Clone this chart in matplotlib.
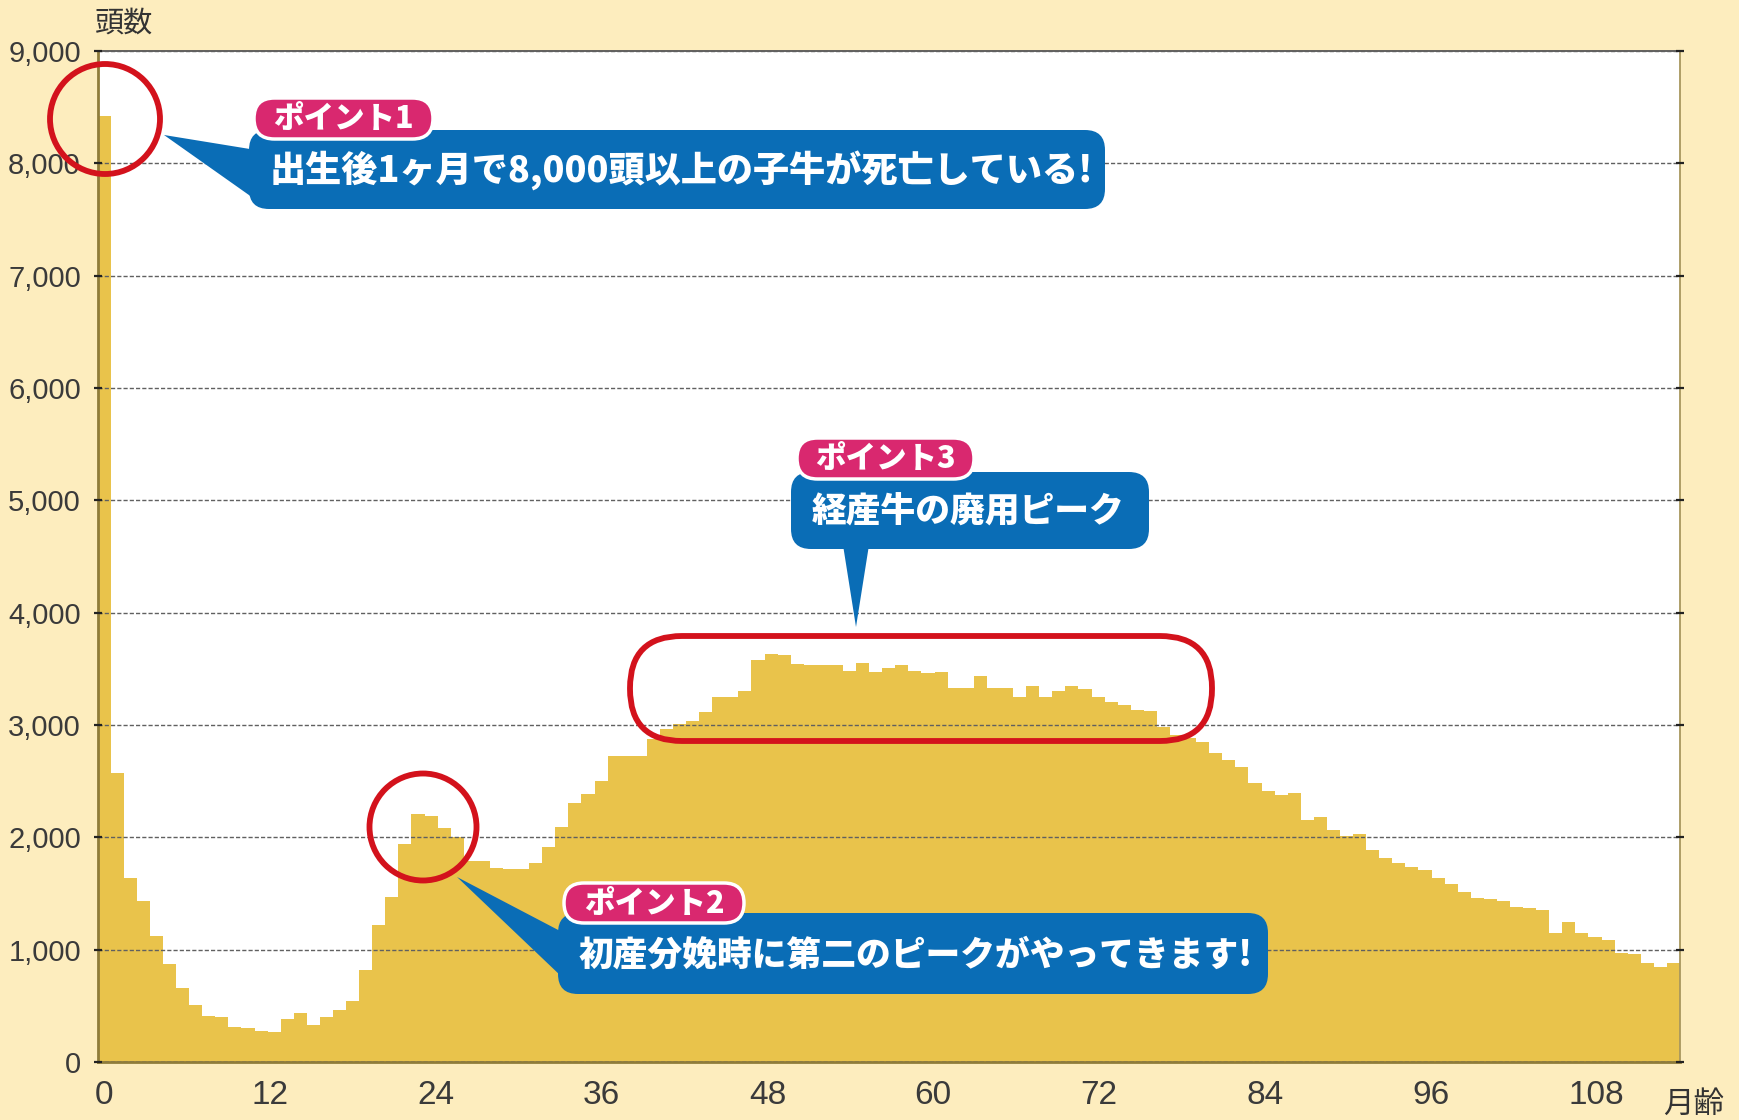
"""Deaths by age in months, with three callouts."""

import matplotlib.pyplot as plt
import numpy as np
from matplotlib.patches import Ellipse, FancyBboxPatch, Polygon

plt.rcParams['font.family'] = ['Noto Sans CJK JP', 'DejaVu Sans']

W, H = 1740, 1120

BG = '#FDEDBE'
GOLD = '#E9C34B'
BLUE = '#0A6DB6'
PINK = '#D9286F'
RED = '#D3121C'

# one bar per month of age, 0..120
months = np.arange(121)
deaths = [
    8420, 2570, 1640, 1435, 1120, 870, 662, 508, 410, 400,
    315, 300, 279, 270, 380, 433, 330, 404, 463, 543,
    819, 1220, 1472, 1938, 2205, 2190, 2081, 2000, 1790, 1790,
    1725, 1715, 1715, 1775, 1915, 2090, 2310, 2390, 2500, 2720,
    2720, 2720, 2875, 2960, 3010, 3040, 3115, 3250, 3250, 3300,
    3580, 3630, 3625, 3544, 3535, 3535, 3535, 3485, 3555, 3470,
    3510, 3535, 3485, 3467, 3476, 3330, 3330, 3437, 3327, 3327,
    3250, 3348, 3250, 3306, 3348, 3318, 3250, 3208, 3175, 3134,
    3128, 2986, 2912, 2882, 2852, 2749, 2689, 2630, 2481, 2416,
    2378, 2392, 2155, 2179, 2066, 2012, 2030, 1888, 1814, 1769,
    1733, 1710, 1636, 1585, 1517, 1457, 1449, 1437, 1383, 1368,
    1353, 1146, 1250, 1146, 1116, 1086, 968, 962, 879, 849,
    879,
]
x_labels = ['0', '12', '24', '36', '48', '60', '72', '84', '96', '108']
y_ticks = np.arange(0, 9001, 1000)

tags = ['ポイント1', 'ポイント2', 'ポイント3']
messages = [
    '出生後1ヶ月で8,000頭以上の子牛が死亡している!',
    '初産分娩時に第二のピークがやってきます!',
    '経産牛の廃用ピーク',
]

fig = plt.figure(figsize=(W / 100, H / 100), dpi=100, facecolor=BG)
ax = fig.add_axes([97.6 / W, 1 - 1062 / H, (1680 - 97.6) / W, (1062 - 51) / H])
ax.bar(months, deaths, width=1.0, color=GOLD, linewidth=0)
ax.set_xlim(-0.5, 120.5)
ax.set_ylim(0, 9000)

# the printed labels sit on a slightly wider pitch than the bars
ax.set_xticks(np.arange(len(x_labels)) * 12.68, x_labels)
ax.set_yticks(y_ticks, [f'{v:,}' for v in y_ticks])
for lab in ax.get_yticklabels():
    lab.set(family='Liberation Sans', size=21, color='#3a3a3a')
for lab in ax.get_xticklabels():
    lab.set(family='Liberation Sans', size=24, color='#3a3a3a')
ax.tick_params(axis='x', length=0, pad=13)
ax.tick_params(axis='y', direction='inout', length=6, width=1.6,
               color='#222222', pad=9, right=True)

ax.set_axisbelow(False)
ax.yaxis.grid(True, color='#606060', linewidth=1.0, linestyle=(0, (3, 1.5)))
ax.xaxis.grid(False)
for side in ('left', 'bottom'):
    ax.spines[side].set(color='#8f7c3a', linewidth=2)
ax.spines['top'].set(color='#555555', linewidth=1.3)
ax.spines['right'].set(color='#a8975e', linewidth=1.3)

# overlay in pixel units for the callouts
ov = fig.add_axes([0, 0, 1, 1])
ov.set_xlim(0, W)
ov.set_ylim(H, 0)
ov.axis('off')
ov.patch.set_visible(False)

ov.text(124, 24, '頭数', ha='center', va='center', size=21, color='#333333')
ov.text(1694, 1104, '月齢', ha='center', va='center', size=22, color='#333333')

for cx, cy, d in [(105, 119, 110), (423, 827, 107)]:
    ov.add_patch(Ellipse((cx, cy), d, d, fill=False, ec=RED, lw=4.2, zorder=5))
ov.add_patch(FancyBboxPatch((630, 636), 582, 105,
                            boxstyle='round,pad=0,rounding_size=52',
                            fill=False, ec=RED, lw=4.2, zorder=5))

tails = [
    [(164, 135), (256, 150), (256, 200)],
    [(457, 877), (562, 932), (562, 977)],
    [(856, 627), (843, 545), (869, 545)],
]
boxes = [(249, 130, 856, 79), (558, 913, 710, 81), (791, 472, 358, 77)]
tag_boxes = [(254, 98, 179, 41), (564, 883, 180, 40), (797, 438, 177, 41)]
msg_sizes = [26, 25, 25]

for tail, (bx, by, bw, bh), (tx, ty, tw, th), tag, msg, fs in zip(
        tails, boxes, tag_boxes, tags, messages, msg_sizes):
    ov.add_patch(Polygon(tail, closed=True, fc=BLUE, ec='none', zorder=6))
    ov.add_patch(FancyBboxPatch((bx, by), bw, bh,
                                boxstyle='round,pad=0,rounding_size=20',
                                fc=BLUE, ec='none', zorder=7))
    ov.text(bx + 21, by + bh / 2 + 1, msg, ha='left', va='center', size=fs,
            weight='heavy', color='white', zorder=9)
    ov.add_patch(FancyBboxPatch((tx, ty), tw, th,
                                boxstyle=f'round,pad=0,rounding_size={th / 2}',
                                fc=PINK, ec='white', lw=2.5, zorder=8))
    ov.text(tx + tw / 2, ty + th / 2, tag, ha='center', va='center', size=22,
            weight='heavy', color='white', zorder=9)

fig.savefig('out.png', dpi=100, facecolor=BG)
